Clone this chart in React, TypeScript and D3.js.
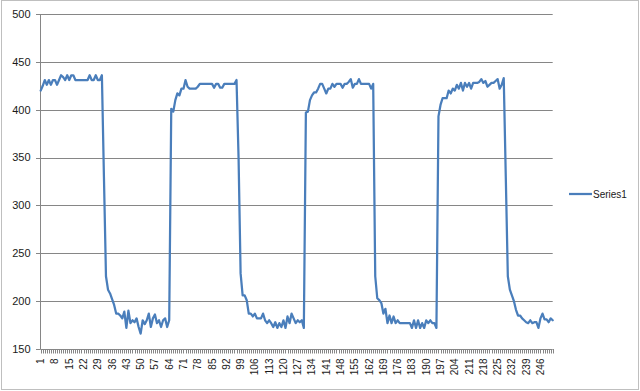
import React from "react";
import * as d3 from "d3";

// Series values (categories 1..252)
const seg1 = [420, 425, 431, 426, 431, 426, 431, 431, 426, 431, 436, 434, 431, 436, 431, 436, 436, 431, 431, 431, 431, 431, 431, 431, 436, 431, 431, 436, 431, 431, 436];
const seg2 = [330, 226, 212, 208, 202, 196, 187, 187, 185, 182, 189, 172, 190, 177, 180, 178, 182, 173, 166, 180, 176, 180, 187, 173, 182, 186, 177, 180, 173, 180, 182, 173, 180];
const seg3 = [401, 398, 410, 417, 415, 422, 422, 431, 424, 422, 422, 422, 422, 424, 427, 427, 427, 427, 427, 427, 427, 423, 427, 427, 423, 423, 427, 427, 427, 427, 427, 427, 431];
const seg4 = [350, 229, 206, 206, 201, 187, 187, 184, 187, 182, 182, 182, 187, 180, 177, 180, 177, 173, 178, 172, 177, 173, 180, 172, 184, 177, 187, 182, 177, 180, 178, 180, 172];
const seg5 = [397, 398, 410, 415, 418, 418, 422, 427, 427, 422, 417, 422, 422, 427, 424, 427, 427, 427, 423, 427, 427, 429, 432, 423, 427, 427, 432, 427, 427, 427, 427, 427, 422, 427];
const seg6 = [226, 203, 201, 198, 187, 192, 177, 185, 177, 184, 177, 180, 177, 177, 177, 177, 177, 177, 172, 180, 172, 180, 172, 177, 172, 180, 177, 180, 177, 177, 172];
const seg7 = [393, 405, 412, 412, 412, 420, 417, 422, 420, 426, 422, 428, 420, 428, 424, 428, 422, 428, 428, 428, 429, 432, 428, 430, 424, 426, 428, 428, 430, 432, 422, 426, 433];
const seg8 = [330, 226, 212, 206, 200, 191, 185, 185, 182, 180, 178, 177, 180, 177, 178, 178, 172, 182, 187, 181, 181, 178, 182, 180];

const values: number[] = [...seg1, ...seg2, ...seg3, ...seg4, ...seg5, ...seg6, ...seg7, ...seg8];
const categories: number[] = values.map((_, i) => i + 1);
const yTicks = [150, 200, 250, 300, 350, 400, 450, 500];
const xLabelStep = 7;
const seriesName = "Series1";

const W = 640;
const H = 391;
const plot = { left: 40.7, right: 552.7, top: 14, bottom: 349 };
const LINE_COLOR = "#4a7ebb";
const GRID = "#868686";
const FONT = "'Liberation Sans', Arial, sans-serif";

export default function App() {
  const x = d3
    .scalePoint<number>()
    .domain(categories)
    .range([plot.left, plot.right])
    .padding(0);
  const y = d3.scaleLinear().domain([150, 500]).range([plot.bottom, plot.top]);

  const line = d3
    .line<number>()
    .x((_, i) => x(categories[i]) as number)
    .y((d) => y(d));

  const labelCats = categories.filter((c) => (c - 1) % xLabelStep === 0);

  return (
    <svg
      width={W}
      height={H}
      style={{ position: "absolute", left: 0, top: 0, background: "#fff" }}
    >
      <rect x={1.5} y={0.5} width={637} height={389} fill="#fff" stroke="#bfbfbf" strokeWidth={1} />
      {/* gridlines */}
      {yTicks.map((t) => (
        <line
          key={"g" + t}
          x1={plot.left}
          x2={plot.right}
          y1={Math.round(y(t)) + 0.5}
          y2={Math.round(y(t)) + 0.5}
          stroke={GRID}
          strokeWidth={1}
        />
      ))}
      {/* y axis */}
      <line x1={40.5} x2={40.5} y1={plot.top} y2={plot.bottom + 0.5} stroke={GRID} />
      {yTicks.map((t) => (
        <g key={"yt" + t}>
          <line x1={36} x2={40.5} y1={Math.round(y(t)) + 0.5} y2={Math.round(y(t)) + 0.5} stroke={GRID} />
          <text
            x={30.5}
            y={y(t)}
            dy="0.35em"
            textAnchor="end"
            fontFamily={FONT}
            fontSize={11}
            fill="#1a1a1a"
          >
            {t}
          </text>
        </g>
      ))}
      {/* x axis ticks */}
      {categories.map((c) => (
        <line
          key={"xt" + c}
          x1={Math.round(x(c) as number) + 0.5}
          x2={Math.round(x(c) as number) + 0.5}
          y1={plot.bottom}
          y2={plot.bottom + 4.5}
          stroke={GRID}
          strokeWidth={1}
        />
      ))}
      {labelCats.map((c) => (
        <text
          key={"xl" + c}
          transform={`translate(${x(c)},${358.5}) rotate(-90)`}
          textAnchor="end"
          dy="0.35em"
          fontFamily={FONT}
          fontSize={10}
          fill="#1a1a1a"
        >
          {c}
        </text>
      ))}
      {/* series */}
      <path
        d={line(values) || ""}
        fill="none"
        stroke={LINE_COLOR}
        strokeWidth={2.25}
        strokeLinejoin="round"
        strokeLinecap="round"
      />
      {/* legend */}
      <line x1={569} x2={592} y1={194} y2={194} stroke={LINE_COLOR} strokeWidth={2.25} />
      <text x={593} y={194} dy="0.35em" fontFamily={FONT} fontSize={10} fill="#1a1a1a">
        {seriesName}
      </text>
    </svg>
  );
}
